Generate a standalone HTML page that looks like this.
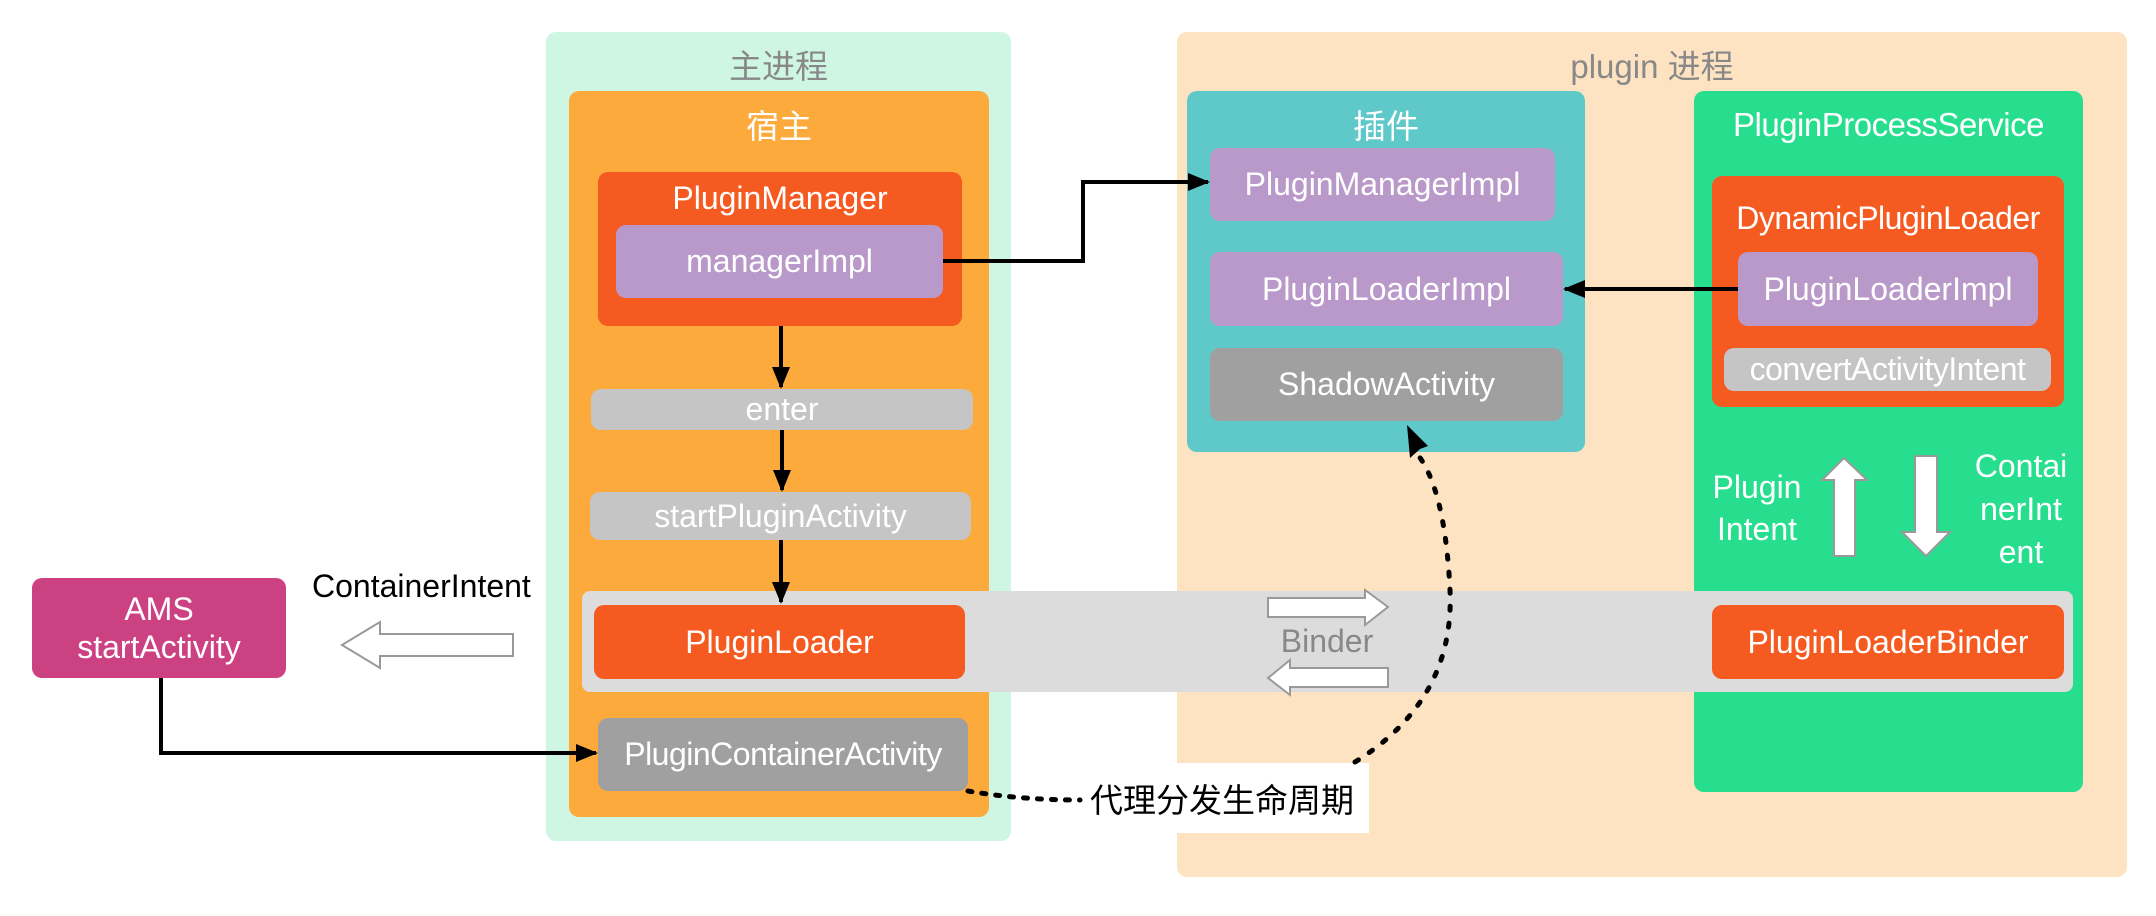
<!DOCTYPE html>
<html><head><meta charset="utf-8"><style>
*{margin:0;padding:0;box-sizing:border-box}
body{width:2156px;height:916px;background:#fff;position:relative;overflow:hidden;font-family:"Liberation Sans","Noto Sans CJK SC",sans-serif}
.b{position:absolute;border-radius:10px;display:flex;align-items:center;justify-content:center;color:#fff;font-size:32px;white-space:nowrap;text-align:center}
.t{position:absolute;text-align:center;white-space:nowrap}
svg{position:absolute;left:0;top:0}
</style></head><body>
<div class="b" style="left:546px;top:32px;width:465px;height:809px;background:#cef6e3"></div>
<div class="t" style="left:546px;top:40px;width:465px;font-size:33px;color:#888">主进程</div>
<div class="b" style="left:569px;top:91px;width:420px;height:726px;background:#fbaa3b"></div>
<div class="t" style="left:569px;top:100px;width:420px;font-size:33px;color:#fff">宿主</div>
<div class="b" style="left:1177px;top:32px;width:950px;height:845px;background:#fde3c1"></div>
<div class="t" style="left:1177px;top:40px;width:950px;font-size:33px;color:#888">plugin 进程</div>
<div class="b" style="left:1187px;top:91px;width:398px;height:361px;background:#5ec9c8"></div>
<div class="t" style="left:1187px;top:100px;width:398px;font-size:33px;color:#fff">插件</div>
<div class="b" style="left:1694px;top:91px;width:389px;height:701px;background:#27de8f"></div>
<div class="t" style="left:1694px;top:106px;width:389px;font-size:33px;color:#fff;letter-spacing:-0.5px">PluginProcessService</div>

<div class="b" style="left:582px;top:591px;width:1491px;height:101px;background:#dcdcdc;border-radius:8px"></div>

<div class="b" style="left:598px;top:172px;width:364px;height:154px;background:#f55a21;align-items:flex-start;padding-top:8px">PluginManager</div>
<div class="b" style="left:616px;top:225px;width:327px;height:73px;background:#b999c9">managerImpl</div>
<div class="b" style="left:591px;top:389px;width:382px;height:41px;background:#c5c5c5">enter</div>
<div class="b" style="left:590px;top:492px;width:381px;height:48px;background:#c5c5c5">startPluginActivity</div>
<div class="b" style="left:594px;top:605px;width:371px;height:74px;background:#f55a21">PluginLoader</div>
<div class="b" style="left:598px;top:718px;width:370px;height:73px;background:#a0a0a0;letter-spacing:-0.5px">PluginContainerActivity</div>

<div class="b" style="left:32px;top:578px;width:254px;height:100px;background:#cc4182;line-height:38px">AMS<br>startActivity</div>
<div class="t" style="left:312px;top:568px;font-size:32px;color:#000">ContainerIntent</div>

<div class="b" style="left:1210px;top:148px;width:345px;height:73px;background:#b999c9">PluginManagerImpl</div>
<div class="b" style="left:1210px;top:252px;width:353px;height:74px;background:#b999c9">PluginLoaderImpl</div>
<div class="b" style="left:1210px;top:348px;width:353px;height:73px;background:#a0a0a0">ShadowActivity</div>

<div class="b" style="left:1712px;top:176px;width:352px;height:231px;background:#f55a21;align-items:flex-start;padding-top:24px;letter-spacing:-0.5px">DynamicPluginLoader</div>
<div class="b" style="left:1738px;top:252px;width:300px;height:74px;background:#b999c9">PluginLoaderImpl</div>
<div class="b" style="left:1724px;top:348px;width:327px;height:43px;background:#c5c5c5;letter-spacing:-0.5px">convertActivityIntent</div>
<div class="b" style="left:1712px;top:605px;width:352px;height:74px;background:#f55a21">PluginLoaderBinder</div>

<div class="t" style="left:1702px;top:466px;width:110px;font-size:32px;color:#fff;line-height:42px">Plugin<br>Intent</div>
<div class="t" style="left:1966px;top:445px;width:110px;font-size:32px;color:#fff;line-height:43px">Contai<br>nerInt<br>ent</div>
<div class="t" style="left:1262px;top:623px;width:130px;font-size:32px;color:#888">Binder</div>

<div class="b" style="left:1080px;top:763px;width:289px;height:70px;background:#fff;color:#000;justify-content:flex-start;padding-left:10px;font-size:33px;border-radius:0">代理分发生命周期</div>

<svg width="2156" height="916">
<defs>
<marker id="m" markerWidth="22" markerHeight="22" refX="20" refY="11" orient="auto" markerUnits="userSpaceOnUse"><path d="M0,2L22,11L0,20z" fill="#000"/></marker></defs>
<g stroke="#000" stroke-width="4" fill="none">
<path d="M943,261H1083V182H1208" marker-end="url(#m)"/>
<path d="M1738,289H1565" marker-end="url(#m)"/>
<path d="M781,326V387" marker-end="url(#m)"/>
<path d="M782,430V490" marker-end="url(#m)"/>
<path d="M781,540V602" marker-end="url(#m)"/>
<path d="M161,678V753H596" marker-end="url(#m)"/>
<path d="M968,791Q1020,800 1080,800" stroke-dasharray="4,10" stroke-linecap="round" stroke-width="5"/>
<path d="M1355,762Q1455,700 1450,590Q1445,490 1418,455" stroke-dasharray="4,13" stroke-linecap="round" stroke-width="5"/>
</g>
<path d="M1407,425L1428,446L1420,449L1410,458z" fill="#000"/>
<g fill="#fff" stroke="#999" stroke-width="2">
<path d="M513,634H380V622L342,645L380,668V656H513z"/>
<path d="M1268,598H1365V590L1388,607L1365,625V617H1268z"/>
<path d="M1388,668H1290V660L1268,678L1290,695V687H1388z"/>
<path d="M1822,480L1844,458L1867,480H1855V556H1834V480z"/>
<path d="M1902,532L1926,556L1950,532H1937V456H1915V532z"/>
</g>
</svg>
</body></html>
